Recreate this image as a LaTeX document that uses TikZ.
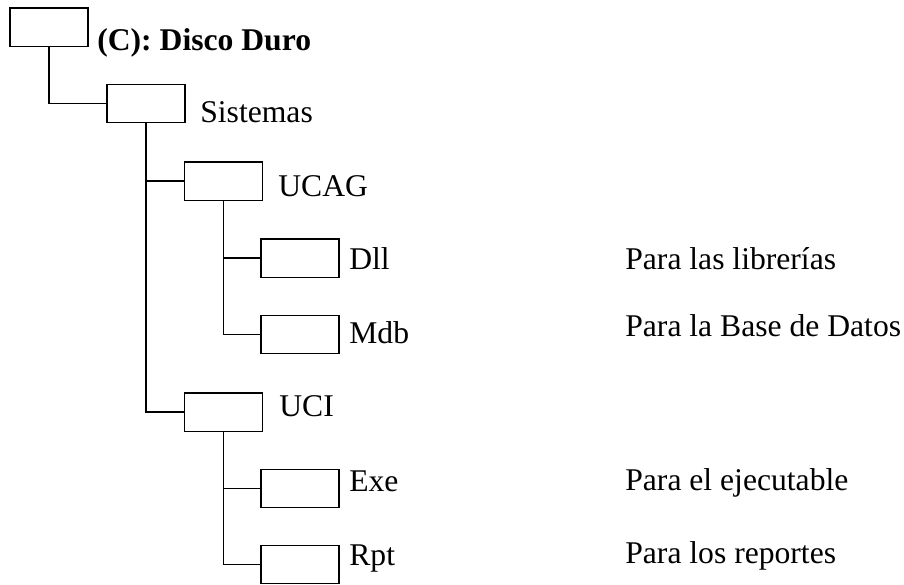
\documentclass[tikz,border=0pt]{standalone}
\usepackage{fontspec}
\setmainfont{Liberation Serif}
\begin{document}
\begin{tikzpicture}[x=0.02cm, y=-0.02cm,
    dir/.style={draw, line width=0.85pt, minimum width=1.56cm, minimum height=0.77cm, inner sep=0pt},
    link/.style={line width=0.85pt},
    lbl/.style={anchor=base west, font=\fontsize{18}{22}\selectfont, inner sep=0pt},
]
\useasboundingbox (0,0) rectangle (904,585);

% === Folder boxes ===
\node[dir] (root) at (49, 27) {};
\node[dir] (sis)  at (146, 103.5) {};
\node[dir] (ucag) at (223.5, 181) {};
\node[dir] (dll)  at (300, 258) {};
\node[dir] (mdb)  at (300, 334.5) {};
\node[dir] (uci)  at (223.5, 412) {};
\node[dir] (exe)  at (300, 488.5) {};
\node[dir] (rpt)  at (300, 564.5) {};

% === Folder names ===
\node[lbl, font=\fontsize{18}{22}\selectfont\bfseries] (rootlbl) at (97, 50) {(C): Disco Duro};
\node[lbl] (sislbl)  at (200, 122) {Sistemas};
\node[lbl] (ucaglbl) at (278, 196) {UCAG};
\node[lbl] (dlllbl)  at (349, 269) {Dll};
\node[lbl] (mdblbl)  at (349, 343) {Mdb};
\node[lbl] (ucilbl)  at (279, 416) {UCI};
\node[lbl] (exelbl)  at (349, 491) {Exe};
\node[lbl] (rptlbl)  at (349, 565) {Rpt};

% === Descriptions ===
\node[lbl] (dlldesc) at (625, 269) {Para las librerías};
\node[lbl] (mdbdesc) at (625, 336) {Para la Base de Datos};
\node[lbl] (exedesc) at (625, 490) {Para el ejecutable};
\node[lbl] (rptdesc) at (625, 563) {Para los reportes};

% === Tree lines ===
\draw[link] (root.south) |- (sis.west);
\draw[link] (sis.south) |- (ucag.west);
\draw[link] (sis.south) |- (uci.west);
\draw[link] (ucag.south) |- (dll.west);
\draw[link] (ucag.south) |- (mdb.west);
\draw[link] (uci.south) |- (exe.west);
\draw[link] (uci.south) |- (rpt.west);

\end{tikzpicture}
\end{document}
